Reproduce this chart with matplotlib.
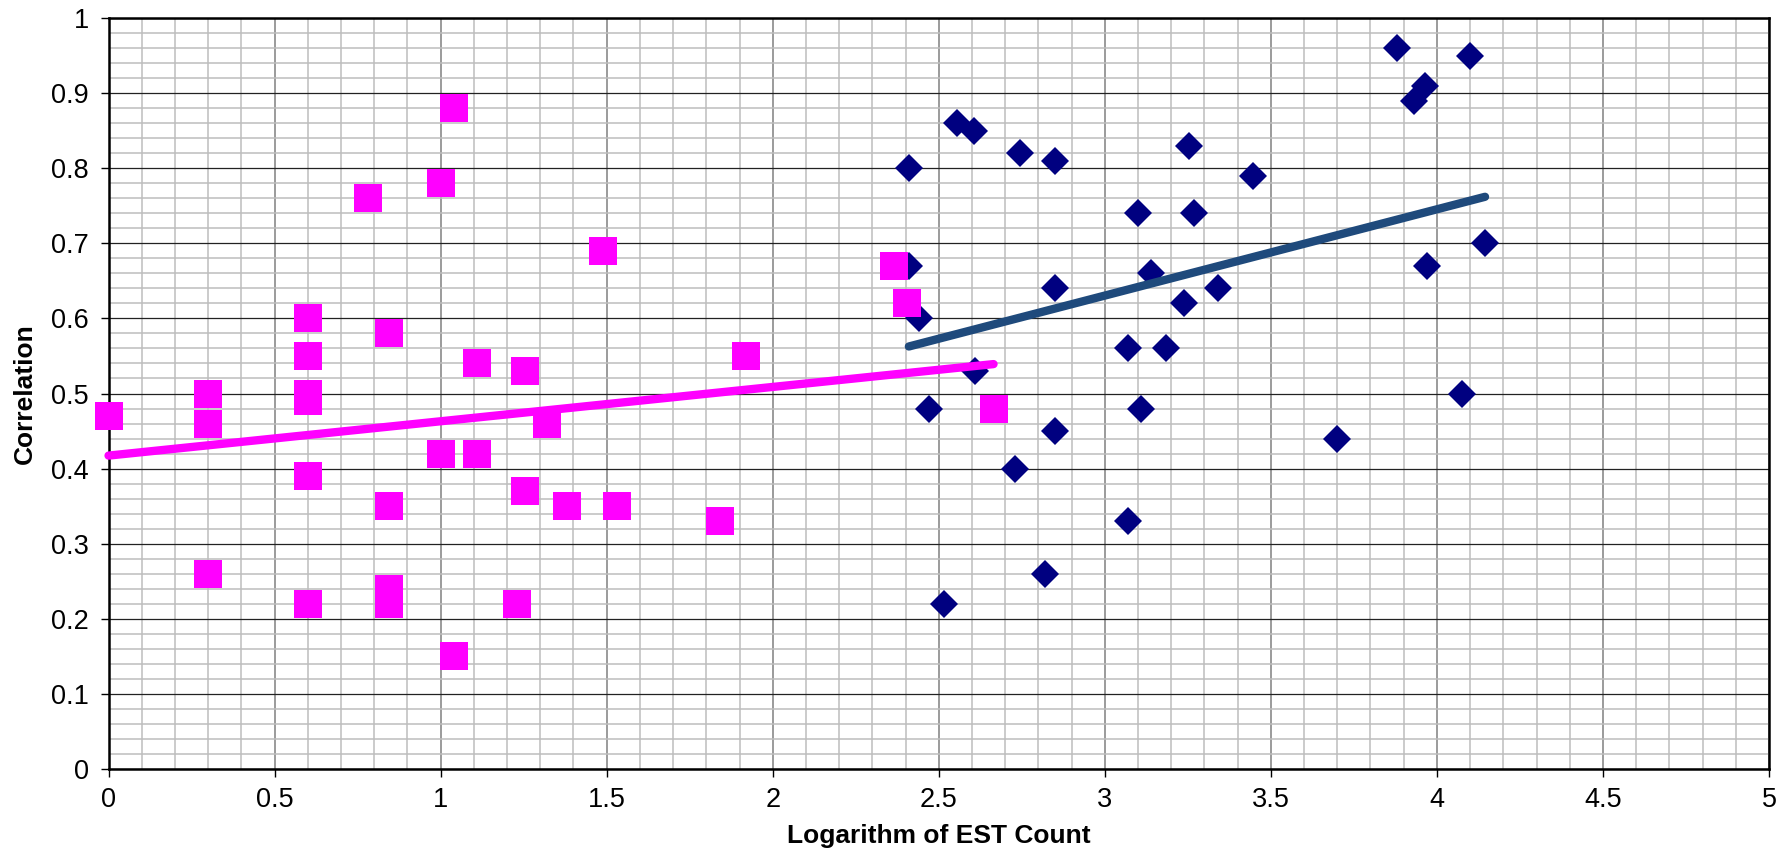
import matplotlib
matplotlib.use("Agg")
import matplotlib.pyplot as plt
from matplotlib.ticker import MultipleLocator
import numpy as np

plt.rcParams['font.family'] = ['Liberation Sans', 'DejaVu Sans']

# Magenta squares (low EST count)
low_x = [0.0, 0.30, 0.30, 0.30, 0.60, 0.60, 0.60, 0.60, 0.60, 0.60, 0.78,
         0.845, 0.845, 0.845, 0.845, 1.0, 1.0, 1.04, 1.04, 1.11, 1.11, 1.23,
         1.255, 1.255, 1.32, 1.38, 1.49, 1.53, 1.84, 1.92, 2.365, 2.405, 2.665]
low_y = [0.47, 0.50, 0.46, 0.26, 0.60, 0.55, 0.50, 0.49, 0.39, 0.22, 0.76,
         0.58, 0.35, 0.24, 0.22, 0.78, 0.42, 0.88, 0.15, 0.54, 0.42, 0.22,
         0.53, 0.37, 0.46, 0.35, 0.69, 0.35, 0.33, 0.55, 0.67, 0.62, 0.48]

# Navy diamonds (high EST count)
high_x = [3.88, 4.10, 3.965, 3.93, 2.555, 2.605, 2.745, 2.85, 2.41, 3.255, 3.445,
          3.10, 3.27, 4.145, 2.41, 3.97, 3.14, 2.85, 3.34, 3.24, 2.44, 3.07,
          3.185, 2.61, 4.075, 2.47, 3.11, 2.85, 3.70, 2.73, 3.07, 2.82, 2.515]
high_y = [0.96, 0.95, 0.91, 0.89, 0.86, 0.85, 0.82, 0.81, 0.80, 0.83, 0.79,
          0.74, 0.74, 0.70, 0.67, 0.67, 0.66, 0.64, 0.64, 0.62, 0.60, 0.56,
          0.56, 0.53, 0.50, 0.48, 0.48, 0.45, 0.44, 0.40, 0.33, 0.26, 0.22]

x_ticks = [0, 0.5, 1, 1.5, 2, 2.5, 3, 3.5, 4, 4.5, 5]
x_tick_labels = ['0', '0.5', '1', '1.5', '2', '2.5', '3', '3.5', '4', '4.5', '5']
y_ticks = [0, 0.1, 0.2, 0.3, 0.4, 0.5, 0.6, 0.7, 0.8, 0.9, 1]
y_tick_labels = ['0', '0.1', '0.2', '0.3', '0.4', '0.5', '0.6', '0.7', '0.8', '0.9', '1']

fig = plt.figure(figsize=(17.91, 8.49), dpi=100)
ax = fig.add_axes([0.0606, 0.0942, 0.9271, 0.8846])

ax.set_xlim(0, 5)
ax.set_ylim(0, 1)

# grid
ax.xaxis.set_minor_locator(MultipleLocator(0.1))
ax.yaxis.set_minor_locator(MultipleLocator(0.02))
ax.set_xticks(x_ticks)
ax.set_xticklabels(x_tick_labels)
ax.set_yticks(y_ticks)
ax.set_yticklabels(y_tick_labels)
ax.grid(which='minor', color='#BDBDBD', linewidth=1.1, zorder=0)
ax.xaxis.grid(which='major', color='#808080', linewidth=1.1)
ax.yaxis.grid(which='major', color='#222222', linewidth=0.9)
ax.set_axisbelow(True)

ax.tick_params(which='minor', length=0)
ax.tick_params(which='major', length=6, width=1.0, color='black',
               labelsize=19.5, direction='out')
ax.tick_params(axis='x', pad=7)
ax.tick_params(axis='y', pad=8)

for s in ax.spines.values():
    s.set_color('black')
    s.set_linewidth(1.8)

# scatter
ax.plot(high_x, high_y, linestyle='none', marker='D', markersize=14.5,
        color='#000080', markeredgewidth=0, zorder=3, clip_on=False)
ax.plot(low_x, low_y, linestyle='none', marker='s', markersize=20,
        color='#FF00FF', markeredgewidth=0, zorder=4, clip_on=False)

# linear trend lines
hx = np.array(high_x); hy = np.array(high_y)
lx = np.array(low_x); ly = np.array(low_y)
hs, hi = np.polyfit(hx, hy, 1)
ls_, li = np.polyfit(lx, ly, 1)
hxx = np.array([hx.min(), hx.max()])
lxx = np.array([lx.min(), lx.max()])
ax.plot(hxx, hs * hxx + hi, color='#1F4A7C', linewidth=6,
        solid_capstyle='round', zorder=5)
ax.plot(lxx, ls_ * lxx + li, color='#FF00FF', linewidth=6,
        solid_capstyle='round', zorder=6, clip_on=False)

ax.set_xlabel('Logarithm of EST Count', fontsize=19, fontweight='bold', labelpad=8)
ax.set_ylabel('Correlation', fontsize=19, fontweight='bold', labelpad=10)

fig.savefig('out.png', dpi=100)
